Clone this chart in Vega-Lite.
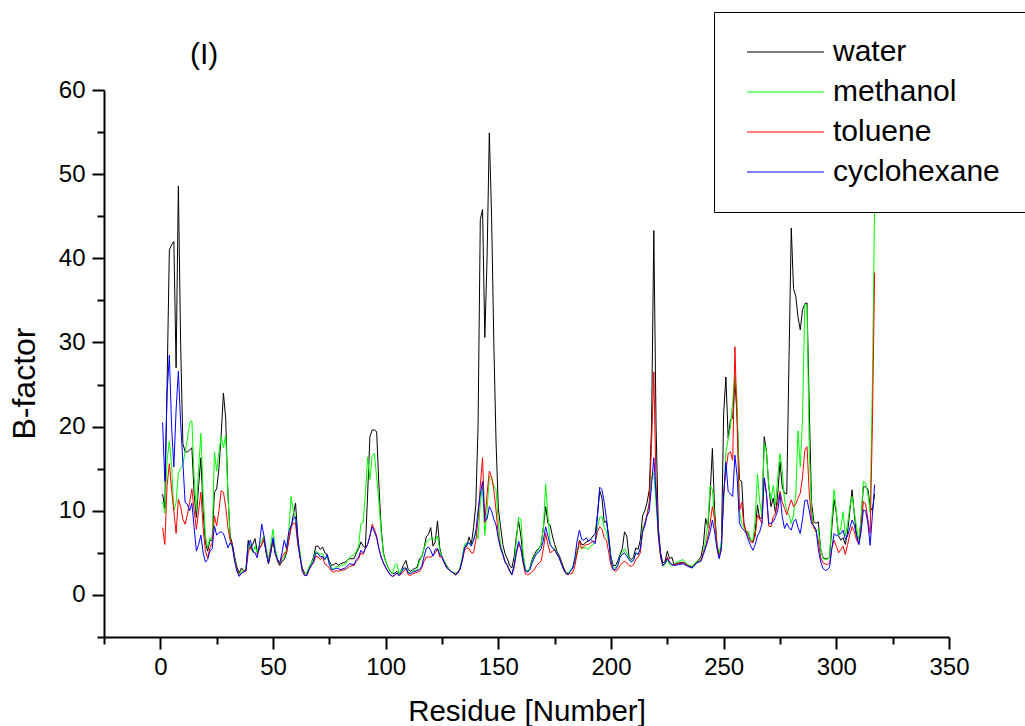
{
  "$schema": "https://vega.github.io/schema/vega-lite/v6.json",
  "width": 845,
  "height": 547,
  "autosize": {"type": "none"},
  "padding": {"left": 104, "top": 90, "right": 76, "bottom": 89},
  "background": "white",
  "config": {"view": {"stroke": null}, "font": "Liberation Sans"},
  "title": {"text": "(I)", "anchor": "start", "frame": "group", "dx": 86, "offset": -88, "baseline": "bottom", "fontSize": 30, "fontWeight": "normal", "font": "Liberation Sans", "color": "black"},
  "data": {"values": [
    {"r":1,"water":12,"methanol":11.1,"toluene":8,"cyclohexane":20.5},
    {"r":2,"water":10.3,"methanol":9.7,"toluene":6,"cyclohexane":13.5},
    {"r":3,"water":25,"methanol":16,"toluene":13,"cyclohexane":24},
    {"r":4,"water":41,"methanol":18.3,"toluene":15.6,"cyclohexane":28.5},
    {"r":5,"water":41.6,"methanol":15.4,"toluene":12.5,"cyclohexane":20},
    {"r":6,"water":42,"methanol":10,"toluene":10,"cyclohexane":15.2},
    {"r":7,"water":27,"methanol":11,"toluene":7.3,"cyclohexane":22},
    {"r":8,"water":48.6,"methanol":14.5,"toluene":11.4,"cyclohexane":26.6},
    {"r":9,"water":30,"methanol":15,"toluene":10.5,"cyclohexane":20.5},
    {"r":10,"water":18,"methanol":15.5,"toluene":9,"cyclohexane":15.8},
    {"r":11,"water":17,"methanol":17,"toluene":8.4,"cyclohexane":11},
    {"r":12,"water":17,"methanol":18.5,"toluene":9.5,"cyclohexane":10.8},
    {"r":13,"water":17.2,"methanol":20.5,"toluene":11,"cyclohexane":10},
    {"r":14,"water":17.5,"methanol":20.7,"toluene":12.6,"cyclohexane":10.9},
    {"r":15,"water":12,"methanol":14,"toluene":10,"cyclohexane":8},
    {"r":16,"water":9.2,"methanol":10,"toluene":7.8,"cyclohexane":5.2},
    {"r":17,"water":13,"methanol":15,"toluene":10,"cyclohexane":6},
    {"r":18,"water":16.3,"methanol":19.2,"toluene":12.2,"cyclohexane":7.1},
    {"r":19,"water":10,"methanol":12,"toluene":8,"cyclohexane":5},
    {"r":20,"water":6.2,"methanol":7,"toluene":5.2,"cyclohexane":3.9},
    {"r":21,"water":5.2,"methanol":5.6,"toluene":4.4,"cyclohexane":4.2},
    {"r":22,"water":6.5,"methanol":6.8,"toluene":5.6,"cyclohexane":5.2},
    {"r":23,"water":6.5,"methanol":6.5,"toluene":6.2,"cyclohexane":5.5},
    {"r":24,"water":12.2,"methanol":17,"toluene":9.4,"cyclohexane":8.2},
    {"r":25,"water":12.6,"methanol":14.7,"toluene":8.2,"cyclohexane":7.1},
    {"r":26,"water":15,"methanol":17,"toluene":10,"cyclohexane":7.4},
    {"r":27,"water":19,"methanol":18.8,"toluene":12.4,"cyclohexane":7.5},
    {"r":28,"water":24,"methanol":17.5,"toluene":12.2,"cyclohexane":7.3},
    {"r":29,"water":21,"methanol":19,"toluene":10.5,"cyclohexane":6.5},
    {"r":30,"water":12,"methanol":12,"toluene":8,"cyclohexane":5.6},
    {"r":31,"water":7,"methanol":6.5,"toluene":6.5,"cyclohexane":6.2},
    {"r":32,"water":6,"methanol":5.5,"toluene":5.8,"cyclohexane":5.8},
    {"r":33,"water":4.5,"methanol":4.3,"toluene":4,"cyclohexane":4},
    {"r":34,"water":3.3,"methanol":3,"toluene":3,"cyclohexane":2.8},
    {"r":35,"water":2.6,"methanol":2.4,"toluene":2.3,"cyclohexane":2.2},
    {"r":36,"water":3.2,"methanol":2.9,"toluene":2.6,"cyclohexane":2.6},
    {"r":37,"water":2.9,"methanol":2.8,"toluene":2.8,"cyclohexane":2.7},
    {"r":38,"water":3,"methanol":2.9,"toluene":2.8,"cyclohexane":2.9},
    {"r":39,"water":6.5,"methanol":5.5,"toluene":5,"cyclohexane":6},
    {"r":40,"water":5.5,"methanol":6,"toluene":5.8,"cyclohexane":6.5},
    {"r":41,"water":6,"methanol":5,"toluene":5.2,"cyclohexane":5.2},
    {"r":42,"water":6.7,"methanol":5.8,"toluene":5,"cyclohexane":5},
    {"r":43,"water":5.2,"methanol":5,"toluene":4.8,"cyclohexane":4.4},
    {"r":44,"water":5.5,"methanol":6,"toluene":5.5,"cyclohexane":6},
    {"r":45,"water":6,"methanol":6.5,"toluene":6,"cyclohexane":8.4},
    {"r":46,"water":6.5,"methanol":7,"toluene":6.8,"cyclohexane":7},
    {"r":47,"water":5,"methanol":5.5,"toluene":5,"cyclohexane":5},
    {"r":48,"water":3.7,"methanol":4.2,"toluene":3.8,"cyclohexane":3.8},
    {"r":49,"water":5,"methanol":6,"toluene":5.5,"cyclohexane":5},
    {"r":50,"water":6.5,"methanol":7.8,"toluene":6.5,"cyclohexane":6.8},
    {"r":51,"water":5,"methanol":5.5,"toluene":4.8,"cyclohexane":5},
    {"r":52,"water":4,"methanol":4.3,"toluene":4.2,"cyclohexane":4.2},
    {"r":53,"water":3.5,"methanol":3.7,"toluene":3.7,"cyclohexane":3.8},
    {"r":54,"water":4,"methanol":4.3,"toluene":4.5,"cyclohexane":5},
    {"r":55,"water":4.2,"methanol":4.5,"toluene":5,"cyclohexane":6.5},
    {"r":56,"water":5,"methanol":5.5,"toluene":5,"cyclohexane":5.5},
    {"r":57,"water":6.5,"methanol":7.5,"toluene":6.5,"cyclohexane":7.5},
    {"r":58,"water":8,"methanol":11.7,"toluene":8,"cyclohexane":8.2},
    {"r":59,"water":9.5,"methanol":10,"toluene":8.5,"cyclohexane":9},
    {"r":60,"water":10.9,"methanol":9,"toluene":8.5,"cyclohexane":9.3},
    {"r":61,"water":7,"methanol":6,"toluene":6,"cyclohexane":6.5},
    {"r":62,"water":4.5,"methanol":5.2,"toluene":4.5,"cyclohexane":4.5},
    {"r":63,"water":3.2,"methanol":3,"toluene":3,"cyclohexane":2.8},
    {"r":64,"water":2.6,"methanol":2.5,"toluene":2.4,"cyclohexane":2.3},
    {"r":65,"water":2.5,"methanol":2.6,"toluene":2.3,"cyclohexane":2.3},
    {"r":66,"water":3.2,"methanol":3.3,"toluene":3,"cyclohexane":3},
    {"r":67,"water":3.8,"methanol":3.8,"toluene":3.5,"cyclohexane":3.5},
    {"r":68,"water":4.5,"methanol":4.3,"toluene":3.8,"cyclohexane":4},
    {"r":69,"water":5.8,"methanol":5.2,"toluene":4.6,"cyclohexane":5},
    {"r":70,"water":5.8,"methanol":5,"toluene":4.5,"cyclohexane":4.9},
    {"r":71,"water":5.4,"methanol":4.8,"toluene":4.2,"cyclohexane":4.5},
    {"r":72,"water":5.7,"methanol":4.9,"toluene":4.5,"cyclohexane":4.6},
    {"r":73,"water":5,"methanol":4.2,"toluene":3.7,"cyclohexane":4.2},
    {"r":74,"water":4.8,"methanol":4.5,"toluene":3.5,"cyclohexane":4.8},
    {"r":75,"water":4,"methanol":3.8,"toluene":3.2,"cyclohexane":3.6},
    {"r":76,"water":3.5,"methanol":3.2,"toluene":2.8,"cyclohexane":3},
    {"r":77,"water":3.6,"methanol":3.1,"toluene":2.7,"cyclohexane":3},
    {"r":78,"water":3.8,"methanol":3.4,"toluene":2.9,"cyclohexane":3.2},
    {"r":79,"water":3.5,"methanol":3.3,"toluene":2.8,"cyclohexane":3.1},
    {"r":80,"water":3.7,"methanol":3.5,"toluene":2.9,"cyclohexane":3},
    {"r":82,"water":3.9,"methanol":3.6,"toluene":3,"cyclohexane":3.2},
    {"r":84,"water":4.3,"methanol":4.5,"toluene":3.4,"cyclohexane":3.7},
    {"r":86,"water":4.3,"methanol":4.8,"toluene":3.5,"cyclohexane":3.6},
    {"r":87,"water":5,"methanol":5.2,"toluene":4,"cyclohexane":4.2},
    {"r":88,"water":5.5,"methanol":5.8,"toluene":4.3,"cyclohexane":4.5},
    {"r":89,"water":6.3,"methanol":8.5,"toluene":5,"cyclohexane":5.3},
    {"r":90,"water":5.8,"methanol":8.6,"toluene":4.8,"cyclohexane":5},
    {"r":91,"water":5.6,"methanol":12,"toluene":5.5,"cyclohexane":5.5},
    {"r":92,"water":12,"methanol":16.4,"toluene":6,"cyclohexane":6},
    {"r":93,"water":18.8,"methanol":13.7,"toluene":7,"cyclohexane":7},
    {"r":94,"water":19.6,"methanol":16.5,"toluene":8.4,"cyclohexane":8.1},
    {"r":95,"water":19.6,"methanol":16.8,"toluene":7.8,"cyclohexane":7.5},
    {"r":96,"water":19.4,"methanol":14,"toluene":7,"cyclohexane":6.8},
    {"r":97,"water":13,"methanol":11,"toluene":5.5,"cyclohexane":5.5},
    {"r":98,"water":8,"methanol":7.5,"toluene":4.5,"cyclohexane":4.5},
    {"r":99,"water":5,"methanol":4.8,"toluene":3.8,"cyclohexane":3.8},
    {"r":100,"water":4,"methanol":4,"toluene":3.2,"cyclohexane":3.3},
    {"r":101,"water":3.3,"methanol":3.3,"toluene":2.8,"cyclohexane":2.8},
    {"r":102,"water":2.8,"methanol":2.8,"toluene":2.4,"cyclohexane":2.4},
    {"r":103,"water":2.5,"methanol":2.5,"toluene":2.2,"cyclohexane":2.2},
    {"r":104,"water":2.6,"methanol":3.5,"toluene":2.3,"cyclohexane":2.4},
    {"r":105,"water":2.8,"methanol":3.7,"toluene":2.6,"cyclohexane":2.6},
    {"r":106,"water":2.5,"methanol":2.5,"toluene":2.3,"cyclohexane":2.3},
    {"r":107,"water":3,"methanol":3,"toluene":2.5,"cyclohexane":2.7},
    {"r":108,"water":3.6,"methanol":3,"toluene":2.8,"cyclohexane":3.2},
    {"r":109,"water":4.1,"methanol":3.2,"toluene":3.1,"cyclohexane":3.2},
    {"r":110,"water":3,"methanol":2.7,"toluene":2.4,"cyclohexane":2.6},
    {"r":111,"water":2.8,"methanol":2.6,"toluene":2.3,"cyclohexane":2.5},
    {"r":112,"water":3,"methanol":2.8,"toluene":2.5,"cyclohexane":2.7},
    {"r":114,"water":3.3,"methanol":3,"toluene":2.7,"cyclohexane":2.9},
    {"r":115,"water":4.3,"methanol":4,"toluene":2.8,"cyclohexane":3},
    {"r":116,"water":4.5,"methanol":4.5,"toluene":3.2,"cyclohexane":3.4},
    {"r":117,"water":5.5,"methanol":5.5,"toluene":4,"cyclohexane":4.5},
    {"r":118,"water":6.9,"methanol":6.3,"toluene":4.5,"cyclohexane":5.5},
    {"r":119,"water":7.2,"methanol":6.5,"toluene":4.5,"cyclohexane":5.7},
    {"r":120,"water":8,"methanol":6.7,"toluene":4.5,"cyclohexane":5.3},
    {"r":121,"water":5.8,"methanol":6.8,"toluene":4.7,"cyclohexane":4.6},
    {"r":122,"water":6.3,"methanol":6.5,"toluene":5,"cyclohexane":5.4},
    {"r":123,"water":8.8,"methanol":7,"toluene":5.5,"cyclohexane":5.5},
    {"r":124,"water":5.6,"methanol":5.3,"toluene":4.5,"cyclohexane":4.8},
    {"r":125,"water":4.5,"methanol":4.5,"toluene":4.5,"cyclohexane":4.5},
    {"r":126,"water":4,"methanol":4,"toluene":3.8,"cyclohexane":3.8},
    {"r":127,"water":3.5,"methanol":3.4,"toluene":3.2,"cyclohexane":3.3},
    {"r":128,"water":3.1,"methanol":3.1,"toluene":3,"cyclohexane":3},
    {"r":129,"water":2.8,"methanol":2.8,"toluene":2.8,"cyclohexane":2.8},
    {"r":130,"water":2.6,"methanol":2.7,"toluene":2.6,"cyclohexane":2.6},
    {"r":131,"water":2.4,"methanol":2.6,"toluene":2.5,"cyclohexane":2.4},
    {"r":132,"water":2.6,"methanol":2.7,"toluene":2.7,"cyclohexane":2.6},
    {"r":133,"water":3.2,"methanol":3.2,"toluene":3.1,"cyclohexane":3},
    {"r":134,"water":4.2,"methanol":4.5,"toluene":4,"cyclohexane":4.2},
    {"r":135,"water":5.6,"methanol":6,"toluene":5.3,"cyclohexane":5.6},
    {"r":136,"water":5.8,"methanol":6.2,"toluene":5.6,"cyclohexane":6.1},
    {"r":137,"water":6.9,"methanol":6.1,"toluene":5.5,"cyclohexane":6.2},
    {"r":138,"water":6,"methanol":5.9,"toluene":5,"cyclohexane":5.8},
    {"r":139,"water":8,"methanol":6.5,"toluene":5,"cyclohexane":6.5},
    {"r":140,"water":10.7,"methanol":7.7,"toluene":6.5,"cyclohexane":7.5},
    {"r":141,"water":20,"methanol":6.7,"toluene":9,"cyclohexane":10},
    {"r":142,"water":44.6,"methanol":11,"toluene":13,"cyclohexane":12},
    {"r":143,"water":45.8,"methanol":12.8,"toluene":16.3,"cyclohexane":13.5},
    {"r":144,"water":30.6,"methanol":7.1,"toluene":8.6,"cyclohexane":8.8},
    {"r":145,"water":40,"methanol":10,"toluene":12,"cyclohexane":9},
    {"r":146,"water":54.9,"methanol":14.1,"toluene":14.7,"cyclohexane":10.5},
    {"r":147,"water":45,"methanol":13.9,"toluene":14,"cyclohexane":10},
    {"r":148,"water":30,"methanol":13,"toluene":12.5,"cyclohexane":9},
    {"r":149,"water":18,"methanol":12.5,"toluene":10,"cyclohexane":8.3},
    {"r":150,"water":10.3,"methanol":8.5,"toluene":7,"cyclohexane":6.7},
    {"r":151,"water":8.1,"methanol":6,"toluene":5.5,"cyclohexane":5.6},
    {"r":152,"water":6,"methanol":5,"toluene":4.8,"cyclohexane":4.8},
    {"r":153,"water":4.9,"methanol":4,"toluene":3.9,"cyclohexane":3.9},
    {"r":154,"water":4.3,"methanol":3.6,"toluene":3.5,"cyclohexane":3.5},
    {"r":155,"water":3.5,"methanol":3,"toluene":2.8,"cyclohexane":2.9},
    {"r":156,"water":3.2,"methanol":2.4,"toluene":2.4,"cyclohexane":2.4},
    {"r":157,"water":4.5,"methanol":3.5,"toluene":3.2,"cyclohexane":3.5},
    {"r":158,"water":7,"methanol":6.5,"toluene":5,"cyclohexane":5},
    {"r":159,"water":8.8,"methanol":9.2,"toluene":6,"cyclohexane":6.4},
    {"r":160,"water":7,"methanol":9,"toluene":5.5,"cyclohexane":5.5},
    {"r":161,"water":4.5,"methanol":5,"toluene":3.8,"cyclohexane":4},
    {"r":162,"water":3,"methanol":3,"toluene":2.5,"cyclohexane":2.8},
    {"r":163,"water":2.8,"methanol":2.8,"toluene":2.4,"cyclohexane":2.7},
    {"r":164,"water":3.2,"methanol":3.2,"toluene":2.5,"cyclohexane":3},
    {"r":165,"water":4.2,"methanol":4,"toluene":2.8,"cyclohexane":3.8},
    {"r":166,"water":4.8,"methanol":4.6,"toluene":3,"cyclohexane":4.4},
    {"r":167,"water":5.3,"methanol":5,"toluene":3.5,"cyclohexane":4.9},
    {"r":168,"water":5.5,"methanol":5.5,"toluene":3.8,"cyclohexane":5.1},
    {"r":169,"water":6,"methanol":6,"toluene":4,"cyclohexane":5.5},
    {"r":170,"water":8,"methanol":8,"toluene":5.5,"cyclohexane":6.5},
    {"r":171,"water":10.5,"methanol":13.2,"toluene":7.3,"cyclohexane":8.1},
    {"r":172,"water":8.5,"methanol":9.5,"toluene":6,"cyclohexane":7},
    {"r":173,"water":8.3,"methanol":6,"toluene":5,"cyclohexane":6},
    {"r":174,"water":7,"methanol":5.6,"toluene":5.2,"cyclohexane":5.6},
    {"r":175,"water":6,"methanol":5.5,"toluene":5.4,"cyclohexane":5.3},
    {"r":176,"water":5.2,"methanol":5,"toluene":4.8,"cyclohexane":4.9},
    {"r":177,"water":4.7,"methanol":4.5,"toluene":4.4,"cyclohexane":4.4},
    {"r":178,"water":4,"methanol":3.8,"toluene":3.7,"cyclohexane":3.7},
    {"r":179,"water":3.2,"methanol":3,"toluene":3,"cyclohexane":3},
    {"r":180,"water":2.7,"methanol":2.7,"toluene":2.6,"cyclohexane":2.5},
    {"r":181,"water":2.6,"methanol":2.6,"toluene":2.5,"cyclohexane":2.4},
    {"r":182,"water":2.9,"methanol":2.9,"toluene":2.5,"cyclohexane":2.8},
    {"r":183,"water":3.2,"methanol":3.3,"toluene":2.6,"cyclohexane":3.2},
    {"r":184,"water":4,"methanol":4.2,"toluene":3.5,"cyclohexane":4.5},
    {"r":185,"water":5,"methanol":5.5,"toluene":5,"cyclohexane":6.5},
    {"r":186,"water":6.5,"methanol":5.8,"toluene":6.4,"cyclohexane":7.7},
    {"r":187,"water":6,"methanol":5.5,"toluene":5.5,"cyclohexane":6.6},
    {"r":188,"water":6,"methanol":5.6,"toluene":5.8,"cyclohexane":6.5},
    {"r":189,"water":6.3,"methanol":5.6,"toluene":6,"cyclohexane":6.8},
    {"r":190,"water":6.4,"methanol":5.4,"toluene":6,"cyclohexane":6.4},
    {"r":191,"water":6.6,"methanol":5.8,"toluene":6.2,"cyclohexane":6.6},
    {"r":192,"water":7,"methanol":6,"toluene":6.4,"cyclohexane":6.3},
    {"r":193,"water":7.3,"methanol":6.2,"toluene":6.3,"cyclohexane":6.1},
    {"r":194,"water":9.5,"methanol":8,"toluene":7.5,"cyclohexane":9.5},
    {"r":195,"water":12.4,"methanol":9.2,"toluene":8.1,"cyclohexane":12.8},
    {"r":196,"water":11.5,"methanol":9.3,"toluene":7.8,"cyclohexane":12.5},
    {"r":197,"water":8.6,"methanol":8,"toluene":6.8,"cyclohexane":11},
    {"r":198,"water":8.8,"methanol":7.5,"toluene":6.5,"cyclohexane":9},
    {"r":199,"water":7,"methanol":6.2,"toluene":5,"cyclohexane":6.5},
    {"r":200,"water":4.5,"methanol":4.2,"toluene":3.5,"cyclohexane":4},
    {"r":201,"water":3.5,"methanol":3.2,"toluene":3,"cyclohexane":3},
    {"r":202,"water":3.5,"methanol":3.2,"toluene":2.8,"cyclohexane":3},
    {"r":203,"water":4,"methanol":3.6,"toluene":3,"cyclohexane":3.5},
    {"r":204,"water":4.8,"methanol":4.5,"toluene":3.5,"cyclohexane":4.5},
    {"r":205,"water":5.5,"methanol":5,"toluene":3.8,"cyclohexane":4.8},
    {"r":206,"water":7.5,"methanol":5.5,"toluene":4,"cyclohexane":5},
    {"r":207,"water":7,"methanol":5,"toluene":3.8,"cyclohexane":4.6},
    {"r":208,"water":4.5,"methanol":4.3,"toluene":3.5,"cyclohexane":4.2},
    {"r":209,"water":4.2,"methanol":4,"toluene":3.4,"cyclohexane":3.9},
    {"r":210,"water":4.5,"methanol":4.2,"toluene":3.6,"cyclohexane":4.1},
    {"r":211,"water":5.6,"methanol":5,"toluene":4.2,"cyclohexane":5},
    {"r":212,"water":5.4,"methanol":4.8,"toluene":4.5,"cyclohexane":4.8},
    {"r":213,"water":6.5,"methanol":5.5,"toluene":5,"cyclohexane":5.5},
    {"r":214,"water":9.4,"methanol":8,"toluene":7.5,"cyclohexane":7.5},
    {"r":215,"water":10,"methanol":8.5,"toluene":8.5,"cyclohexane":8.2},
    {"r":216,"water":11,"methanol":9.5,"toluene":9.5,"cyclohexane":9.4},
    {"r":217,"water":12.5,"methanol":11,"toluene":11,"cyclohexane":10},
    {"r":218,"water":20,"methanol":14,"toluene":18,"cyclohexane":13},
    {"r":219,"water":43.3,"methanol":14.5,"toluene":26.5,"cyclohexane":16.3},
    {"r":220,"water":20,"methanol":11,"toluene":13,"cyclohexane":12},
    {"r":221,"water":8,"methanol":7,"toluene":7,"cyclohexane":7.5},
    {"r":222,"water":5,"methanol":4.5,"toluene":4.5,"cyclohexane":4.8},
    {"r":223,"water":3.8,"methanol":3.4,"toluene":3.5,"cyclohexane":3.5},
    {"r":224,"water":4,"methanol":3.6,"toluene":3.8,"cyclohexane":3.8},
    {"r":225,"water":5.2,"methanol":4.2,"toluene":4.5,"cyclohexane":4.3},
    {"r":226,"water":4.3,"methanol":3.6,"toluene":3.9,"cyclohexane":3.9},
    {"r":227,"water":4.5,"methanol":3.5,"toluene":3.6,"cyclohexane":3.6},
    {"r":228,"water":3.6,"methanol":3.7,"toluene":3.6,"cyclohexane":3.5},
    {"r":230,"water":3.8,"methanol":4,"toluene":3.7,"cyclohexane":3.6},
    {"r":232,"water":3.9,"methanol":4.2,"toluene":3.8,"cyclohexane":3.7},
    {"r":234,"water":3.5,"methanol":3.6,"toluene":3.5,"cyclohexane":3.4},
    {"r":236,"water":3.3,"methanol":3.4,"toluene":3.2,"cyclohexane":3.2},
    {"r":238,"water":3.8,"methanol":4,"toluene":3.8,"cyclohexane":3.8},
    {"r":240,"water":4.6,"methanol":4.2,"toluene":4.2,"cyclohexane":4},
    {"r":241,"water":6,"methanol":5,"toluene":5,"cyclohexane":4.8},
    {"r":242,"water":9.1,"methanol":6.5,"toluene":5.7,"cyclohexane":5.6},
    {"r":243,"water":8,"methanol":8.5,"toluene":7,"cyclohexane":6.5},
    {"r":244,"water":12,"methanol":13,"toluene":8.5,"cyclohexane":7.5},
    {"r":245,"water":17.4,"methanol":12.5,"toluene":10.5,"cyclohexane":8.9},
    {"r":246,"water":10,"methanol":9,"toluene":9,"cyclohexane":7.5},
    {"r":247,"water":6,"methanol":6,"toluene":6,"cyclohexane":5.5},
    {"r":248,"water":4.5,"methanol":4.8,"toluene":4.5,"cyclohexane":4.3},
    {"r":249,"water":6,"methanol":6.5,"toluene":5.5,"cyclohexane":5.5},
    {"r":250,"water":21.6,"methanol":11,"toluene":12,"cyclohexane":12},
    {"r":251,"water":25.9,"methanol":17,"toluene":14.8,"cyclohexane":15.8},
    {"r":252,"water":18.6,"methanol":18.5,"toluene":16.8,"cyclohexane":12.3},
    {"r":253,"water":20.8,"methanol":20,"toluene":17,"cyclohexane":12},
    {"r":254,"water":21,"methanol":23,"toluene":16,"cyclohexane":11.7},
    {"r":255,"water":25.5,"methanol":26.3,"toluene":29.5,"cyclohexane":16.6},
    {"r":256,"water":21,"methanol":23,"toluene":20,"cyclohexane":14},
    {"r":257,"water":13.7,"methanol":10,"toluene":10,"cyclohexane":8.5},
    {"r":258,"water":13.5,"methanol":8.5,"toluene":11,"cyclohexane":8},
    {"r":259,"water":8.5,"methanol":8,"toluene":8.3,"cyclohexane":7.7},
    {"r":260,"water":7.5,"methanol":7.5,"toluene":7.5,"cyclohexane":7.3},
    {"r":261,"water":7.3,"methanol":7.5,"toluene":6.8,"cyclohexane":6.5},
    {"r":262,"water":6.5,"methanol":6.5,"toluene":6.3,"cyclohexane":5.8},
    {"r":263,"water":6.3,"methanol":6.5,"toluene":6.2,"cyclohexane":5.3},
    {"r":264,"water":7.5,"methanol":9,"toluene":7,"cyclohexane":6},
    {"r":265,"water":10.7,"methanol":14.4,"toluene":9.5,"cyclohexane":7},
    {"r":266,"water":9,"methanol":11,"toluene":9,"cyclohexane":7.5},
    {"r":267,"water":9.3,"methanol":9.5,"toluene":8.5,"cyclohexane":8.5},
    {"r":268,"water":18.8,"methanol":18,"toluene":13.9,"cyclohexane":13.9},
    {"r":269,"water":17,"methanol":17,"toluene":12,"cyclohexane":12},
    {"r":270,"water":13,"methanol":13,"toluene":8.2,"cyclohexane":8.5},
    {"r":271,"water":10.5,"methanol":11.3,"toluene":8.1,"cyclohexane":8.5},
    {"r":272,"water":11.5,"methanol":13,"toluene":9.3,"cyclohexane":8.7},
    {"r":273,"water":9.7,"methanol":10.7,"toluene":9.7,"cyclohexane":9.3},
    {"r":274,"water":12,"methanol":14,"toluene":11,"cyclohexane":10},
    {"r":275,"water":15.8,"methanol":16.8,"toluene":12.3,"cyclohexane":12},
    {"r":276,"water":12.8,"methanol":14.8,"toluene":11,"cyclohexane":9.3},
    {"r":277,"water":12.1,"methanol":11.3,"toluene":10.3,"cyclohexane":7.9},
    {"r":278,"water":12,"methanol":10,"toluene":9.5,"cyclohexane":8.5},
    {"r":279,"water":28,"methanol":9.5,"toluene":10.5,"cyclohexane":8},
    {"r":280,"water":43.6,"methanol":8.5,"toluene":11.3,"cyclohexane":7.7},
    {"r":281,"water":36.4,"methanol":9.5,"toluene":10.5,"cyclohexane":8.7},
    {"r":282,"water":35.5,"methanol":12,"toluene":10.8,"cyclohexane":9},
    {"r":283,"water":33,"methanol":19.5,"toluene":11.5,"cyclohexane":8},
    {"r":284,"water":31.5,"methanol":15.2,"toluene":12.1,"cyclohexane":7.3},
    {"r":285,"water":33.9,"methanol":21,"toluene":14,"cyclohexane":9},
    {"r":286,"water":34.6,"methanol":34.6,"toluene":17.2,"cyclohexane":11.2},
    {"r":287,"water":34.7,"methanol":34.3,"toluene":17.6,"cyclohexane":11.3},
    {"r":288,"water":22,"methanol":17,"toluene":12,"cyclohexane":10},
    {"r":289,"water":11,"methanol":10,"toluene":9,"cyclohexane":8.5},
    {"r":290,"water":8.7,"methanol":8,"toluene":8,"cyclohexane":8.2},
    {"r":291,"water":8.5,"methanol":7.5,"toluene":7.5,"cyclohexane":7.8},
    {"r":292,"water":8.7,"methanol":7.8,"toluene":6.5,"cyclohexane":5.5},
    {"r":293,"water":5.5,"methanol":5.5,"toluene":4.5,"cyclohexane":4},
    {"r":294,"water":4.5,"methanol":4.4,"toluene":3.8,"cyclohexane":3.2},
    {"r":295,"water":4.3,"methanol":4.2,"toluene":3.7,"cyclohexane":2.9},
    {"r":296,"water":4.3,"methanol":4.2,"toluene":3.6,"cyclohexane":3},
    {"r":297,"water":4.5,"methanol":4.6,"toluene":3.8,"cyclohexane":3.3},
    {"r":298,"water":8,"methanol":9,"toluene":5.5,"cyclohexane":5.5},
    {"r":299,"water":11.3,"methanol":12.5,"toluene":6.5,"cyclohexane":7.3},
    {"r":300,"water":9.7,"methanol":10,"toluene":5.8,"cyclohexane":7},
    {"r":301,"water":7,"methanol":7,"toluene":5,"cyclohexane":7.2},
    {"r":302,"water":6.5,"methanol":8,"toluene":5.4,"cyclohexane":7.3},
    {"r":303,"water":6.8,"methanol":9.9,"toluene":5.8,"cyclohexane":7.7},
    {"r":304,"water":6,"methanol":7,"toluene":4.8,"cyclohexane":6.6},
    {"r":305,"water":7.5,"methanol":8.5,"toluene":6,"cyclohexane":7},
    {"r":306,"water":10,"methanol":10.5,"toluene":7.2,"cyclohexane":8},
    {"r":307,"water":12.5,"methanol":11.7,"toluene":8.1,"cyclohexane":8.9},
    {"r":308,"water":9.5,"methanol":9.8,"toluene":7.5,"cyclohexane":8.3},
    {"r":309,"water":7,"methanol":8,"toluene":6.5,"cyclohexane":7},
    {"r":310,"water":6.5,"methanol":6.5,"toluene":6,"cyclohexane":6},
    {"r":311,"water":9,"methanol":9,"toluene":8,"cyclohexane":7.5},
    {"r":312,"water":12.9,"methanol":13.5,"toluene":11.1,"cyclohexane":10.1},
    {"r":313,"water":12.8,"methanol":13.3,"toluene":10.8,"cyclohexane":10},
    {"r":314,"water":12.6,"methanol":12,"toluene":9,"cyclohexane":8.5},
    {"r":315,"water":10.5,"methanol":9.8,"toluene":7.3,"cyclohexane":5.9},
    {"r":316,"water":10,"methanol":25,"toluene":20,"cyclohexane":9.5},
    {"r":317,"water":12,"methanol":47,"toluene":38.3,"cyclohexane":13.1}
  ]},
  "transform": [{"fold": ["water", "methanol", "toluene", "cyclohexane"], "as": ["solvent", "B"]}],
  "mark": {"type": "line", "strokeWidth": 1, "clip": true},
  "encoding": {
    "x": {
      "field": "r", "type": "quantitative",
      "scale": {"domain": [-25, 350], "nice": false, "zero": false},
      "axis": {
        "title": "Residue [Number]",
        "values": [-25, 0, 25, 50, 75, 100, 125, 150, 175, 200, 225, 250, 275, 300, 325, 350],
        "labelExpr": "datum.value % 50 === 0 ? datum.label : ''",
        "tickSize": {"condition": {"test": "datum.value % 50 === 0", "value": 12}, "value": 7},
        "grid": false, "domainColor": "black", "domainWidth": 2, "tickColor": "black", "tickWidth": 2,
        "labelFontSize": 24, "labelColor": "black", "labelFont": "Liberation Sans", "labelPadding": 6,
        "labelFlush": false, "labelOverlap": false,
        "titleFontSize": 29.5, "titleFontWeight": "normal", "titleColor": "black", "titleFont": "Liberation Sans", "titlePadding": 18
      }
    },
    "y": {
      "field": "B", "type": "quantitative",
      "scale": {"domain": [-5, 60], "nice": false, "zero": false},
      "axis": {
        "title": "B-factor",
        "values": [-5, 0, 5, 10, 15, 20, 25, 30, 35, 40, 45, 50, 55, 60],
        "labelExpr": "datum.value % 10 === 0 ? datum.label : ''",
        "tickSize": {"condition": {"test": "datum.value % 10 === 0", "value": 12}, "value": 7},
        "grid": false, "domainColor": "black", "domainWidth": 2, "tickColor": "black", "tickWidth": 2,
        "labelFontSize": 24, "labelColor": "black", "labelFont": "Liberation Sans", "labelPadding": 7,
        "labelOverlap": false, "labelFlush": false,
        "titleFontSize": 32, "titleFontWeight": "normal", "titleColor": "black", "titleFont": "Liberation Sans",
        "titleX": -80, "titleY": 293, "titleBaseline": "middle", "titleAlign": "center", "titleAngle": -90
      }
    },
    "color": {
      "field": "solvent", "type": "nominal",
      "scale": {"domain": ["water", "methanol", "toluene", "cyclohexane"], "range": ["#000000", "#00ff00", "#ff0000", "#0000ff"]},
      "legend": {
        "title": "\u00a0\u00a0\u00a0\u00a0\u00a0", "titleOrient": "right", "titleFontSize": 30, "titlePadding": 5,
        "orient": "none", "legendX": 610, "legendY": -78,
        "symbolType": "stroke", "symbolSize": 5929, "symbolStrokeWidth": 1.2,
        "labelFontSize": 30, "labelFont": "Liberation Sans", "labelColor": "black",
        "labelOffset": 8, "symbolOffset": 12, "padding": 20,
        "strokeColor": "black", "fillColor": "white", "clipHeight": 40, "rowPadding": 0,
        "labelLimit": 0
      }
    }
  }
}
